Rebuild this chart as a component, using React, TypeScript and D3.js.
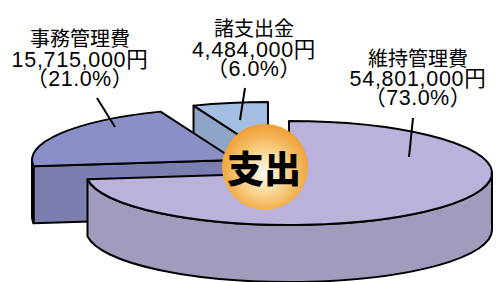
import React from "react";
import * as d3 from "d3";

// ---- data ----
const categories = ["維持管理費", "事務管理費", "諸支出金"];
const amounts = [54801000, 15715000, 4484000];
const percents = [73.0, 21.0, 6.0];
const centerTitle = "支出";

// ---- style / layout ----
const W = 496;
const H = 282;
const topColors = ["#BAB2DA", "#8B8FC8", "#A4BDE3"];
const sideColors = ["#A39BBE", "#7B7EAE", "#8EA5C8"];
const explode: [number, number][] = [
  [0, 0],
  [-54, -13],
  [-21, -19],
];
const CX = 289;
const CY = 173;
const RX = 203;
const RY = 52;
const DEPTH = 57;
const CJK = "'Noto Sans CJK JP', 'Noto Sans', sans-serif";
const NUM = "'Liberation Sans', 'Noto Sans CJK JP', sans-serif";

const labelLayout = [
  { x: 418, ys: [66, 86, 105] },
  { x: 80, ys: [46, 67, 86] },
  { x: 254, ys: [36, 57, 76] },
];
const leaderLayout = [
  [413, 118, 409, 157],
  [97, 98, 115, 127],
  [245, 88, 240, 120],
];

const fmt = d3.format(",");

function pt(cx: number, cy: number, a: number, dy = 0): [number, number] {
  return [cx + RX * Math.sin(a), cy - RY * Math.cos(a) + dy];
}

export default function App() {
  const pie = d3
    .pie<number>()
    .sort(null)
    .value((d) => d)
    .startAngle(0)
    .endAngle(2 * Math.PI);
  const arcs = pie(amounts);

  const slices = arcs.map((a, i) => {
    const cx = CX + explode[i][0];
    const cy = CY + explode[i][1];
    const a0 = a.startAngle;
    const a1 = a.endAngle;
    const p0 = pt(cx, cy, a0);
    const p1 = pt(cx, cy, a1);
    const large = a1 - a0 > Math.PI ? 1 : 0;
    const top = `M${cx},${cy}L${p0[0]},${p0[1]}A${RX},${RY} 0 ${large} 1 ${p1[0]},${p1[1]}Z`;

    const faces: string[] = [];
    if (Math.cos(a0 - Math.PI / 2) < -1e-6) {
      faces.push(
        `M${cx},${cy}L${p0[0]},${p0[1]}L${p0[0]},${p0[1] + DEPTH}L${cx},${cy + DEPTH}Z`
      );
    }
    if (Math.cos(a1 + Math.PI / 2) < -1e-6) {
      faces.push(
        `M${cx},${cy}L${p1[0]},${p1[1]}L${p1[0]},${p1[1] + DEPTH}L${cx},${cy + DEPTH}Z`
      );
    }
    const s = Math.max(a0, Math.PI / 2);
    const e = Math.min(a1, (3 * Math.PI) / 2);
    if (e > s) {
      const ps = pt(cx, cy, s);
      const pe = pt(cx, cy, e);
      faces.push(
        `M${ps[0]},${ps[1]}A${RX},${RY} 0 0 1 ${pe[0]},${pe[1]}L${pe[0]},${pe[1] + DEPTH}A${RX},${RY} 0 0 0 ${ps[0]},${ps[1] + DEPTH}Z`
      );
    }
    return { i, top, faces };
  });

  const order = [2, 1, 0];

  return (
    <svg
      width={W}
      height={H}
      viewBox={`0 0 ${W} ${H}`}
      style={{ position: "absolute", left: 0, top: 0, background: "#fff" }}
    >
      <defs>
        <radialGradient id="ctr" cx="50%" cy="55%" r="55%" fx="50%" fy="58%">
          <stop offset="0%" stopColor="#FFFCF2" />
          <stop offset="35%" stopColor="#FBDFA6" />
          <stop offset="75%" stopColor="#F4B559" />
          <stop offset="100%" stopColor="#EE9E30" />
        </radialGradient>
      </defs>
      <rect width={W} height={H} fill="#fff" />
      {order.map((k) => {
        const sl = slices[k];
        return (
          <g key={k} stroke="#000" strokeWidth={2} strokeLinejoin="round">
            {sl.faces.map((f, j) => (
              <path key={j} d={f} fill={sideColors[k]} />
            ))}
            <path d={sl.top} fill={topColors[k]} />
          </g>
        );
      })}
      {leaderLayout.map((l, i) => (
        <line
          key={i}
          x1={l[0]}
          y1={l[1]}
          x2={l[2]}
          y2={l[3]}
          stroke="#000"
          strokeWidth={2}
        />
      ))}
      <circle cx={265} cy={167} r={43} fill="url(#ctr)" />
      <text
        x={264}
        y={183}
        textAnchor="middle"
        fontFamily={CJK}
        fontWeight={900}
        fontSize={37}
        fill="#000"
      >
        {centerTitle}
      </text>
      {categories.map((c, i) => {
        const L = labelLayout[i];
        return (
          <text key={c} fill="#000" textAnchor="middle">
            <tspan x={L.x} y={L.ys[0]} fontFamily={CJK} fontSize={20}>
              {c}
            </tspan>
            <tspan
              x={L.x}
              y={L.ys[1]}
              fontFamily={NUM}
              fontSize={21.5}
              letterSpacing={0.7}
            >
              {`${fmt(amounts[i])}円`}
            </tspan>
            <tspan
              x={L.x}
              y={L.ys[2]}
              fontFamily={NUM}
              fontSize={21.5}
              letterSpacing={0.5}
            >
              {`（${percents[i].toFixed(1)}%）`}
            </tspan>
          </text>
        );
      })}
    </svg>
  );
}
